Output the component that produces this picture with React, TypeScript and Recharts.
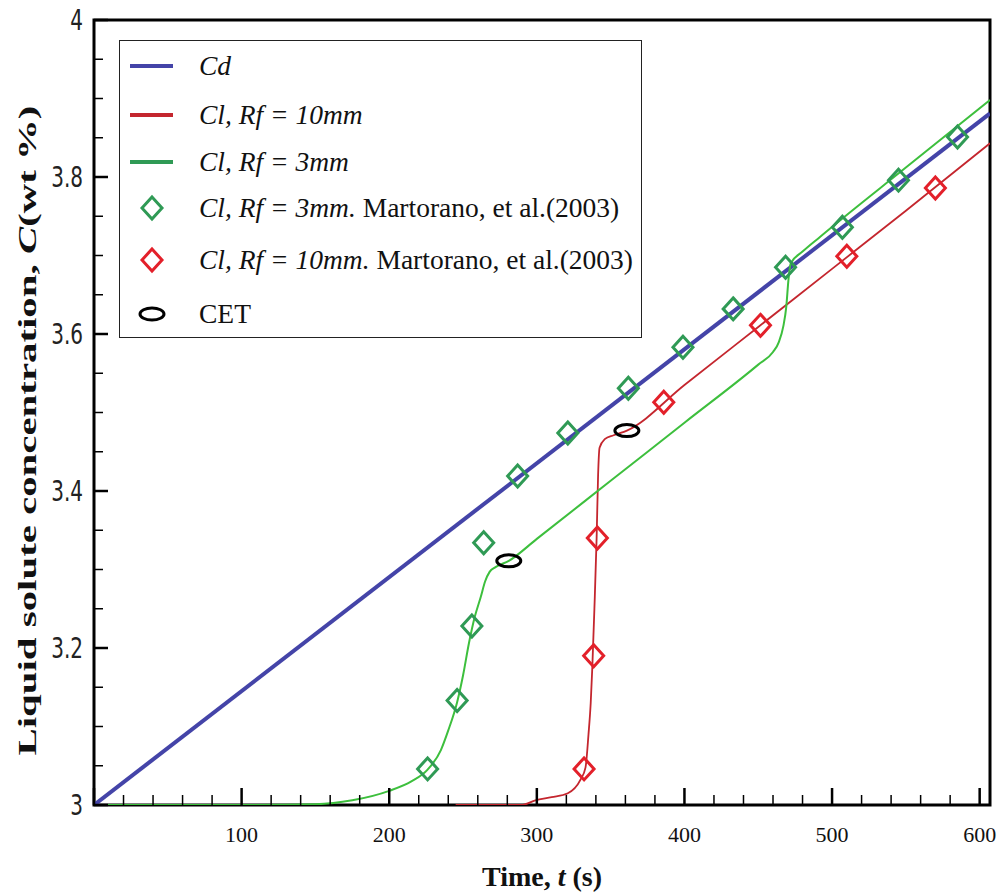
import React from "react";
import {
  ComposedChart,
  Line,
  Scatter,
  XAxis,
  YAxis,
  ReferenceArea,
  Legend,
} from "recharts";

// Cd (blue straight line)
const cdTime = [0, 607];
const cdConc = [3.0, 3.881];

// Cl, Rf = 3mm simulation (green)
const rf3Time = [0, 100, 150, 175, 200, 215, 226, 235, 240, 246, 250, 254, 258, 262, 265, 268, 272, 281, 300, 350, 400, 450, 460, 464, 467, 469, 470.5, 472, 480, 492, 550, 607];
const rf3Conc = [3.0, 3.0, 3.001, 3.006, 3.018, 3.03, 3.045, 3.07, 3.095, 3.131, 3.165, 3.206, 3.24, 3.265, 3.285, 3.297, 3.303, 3.311, 3.339, 3.413, 3.487, 3.561, 3.577, 3.59, 3.61, 3.635, 3.67, 3.69, 3.705, 3.724, 3.812, 3.898];

// Cl, Rf = 10mm simulation (red)
const rf10Time = [245, 290, 299, 310, 321, 329.5, 333, 335, 336.5, 337.6, 339, 340.5, 341.5, 342.5, 346, 352, 361, 400, 450, 500, 550, 607];
const rf10Conc = [3.0, 3.0, 3.006, 3.01, 3.015, 3.032, 3.048, 3.09, 3.13, 3.176, 3.25, 3.34, 3.42, 3.455, 3.466, 3.471, 3.477, 3.535, 3.609, 3.683, 3.757, 3.843];

// Martorano et al. (2003), Rf = 3mm
const exp3Time = [226, 246, 256, 264, 287, 321, 362, 399, 433, 468.5, 507, 545, 585];
const exp3Conc = [3.046, 3.133, 3.228, 3.334, 3.419, 3.474, 3.531, 3.583, 3.632, 3.685, 3.736, 3.796, 3.851];

// Martorano et al. (2003), Rf = 10mm
const exp10Time = [332, 338.5, 341, 386, 451.5, 510, 570];
const exp10Conc = [3.046, 3.19, 3.34, 3.513, 3.611, 3.699, 3.786];

// CET
const cetTime = [281, 361];
const cetConc = [3.311, 3.477];

const xTicks = [0, 20, 40, 60, 80, 100, 120, 140, 160, 180, 200, 220, 240, 260, 280, 300, 320, 340, 360, 380, 400, 420, 440, 460, 480, 500, 520, 540, 560, 580, 600];
const yTicks = [3, 3.05, 3.1, 3.15, 3.2, 3.25, 3.3, 3.35, 3.4, 3.45, 3.5, 3.55, 3.6, 3.65, 3.7, 3.75, 3.8, 3.85, 3.9, 3.95, 4];

const BLUE = "#4444a8";
const RED = "#c4262e";
const GREEN = "#3dbf3d";
const GREEN_MK = "#2f9a55";
const RED_MK = "#e3202a";

const zip = (t: number[], c: number[]) => t.map((v, i) => ({ t: v, c: c[i] }));

const cdData = zip(cdTime, cdConc);
const rf3Data = zip(rf3Time, rf3Conc);
const rf10Data = zip(rf10Time, rf10Conc);
const exp3Data = zip(exp3Time, exp3Conc);
const exp10Data = zip(exp10Time, exp10Conc);
const cetData = zip(cetTime, cetConc);

const serif = "'Liberation Serif', 'Times New Roman', serif";

const diamond = (color: string) => (props: any) => {
  const { cx, cy } = props;
  if (cx == null || cy == null) return <g />;
  return (
    <polygon
      points={`${cx},${cy - 11} ${cx + 10},${cy} ${cx},${cy + 11} ${cx - 10},${cy}`}
      fill="none"
      stroke={color}
      strokeWidth={3}
    />
  );
};

const ellipse = (props: any) => {
  const { cx, cy } = props;
  if (cx == null || cy == null) return <g />;
  return <ellipse cx={cx} cy={cy} rx={12} ry={6} fill="none" stroke="#000" strokeWidth={3} />;
};

const XTick = (props: any) => {
  const { x, y, payload } = props;
  const v = payload.value;
  const major = v % 100 === 0;
  return (
    <g>
      <line x1={x} y1={y} x2={x} y2={y - (major ? 17 : 10)} stroke="#000" strokeWidth={major ? 2.5 : 1.5} />
      {major && v > 0 && (
        <text x={x} y={y + 37} textAnchor="middle" fontFamily={serif} fontSize={22} fill="#111">
          {v}
        </text>
      )}
    </g>
  );
};

const YTick = (props: any) => {
  const { x, y, payload } = props;
  const v = payload.value;
  const major = Math.abs(v * 5 - Math.round(v * 5)) < 1e-6;
  return (
    <g>
      <line x1={x} y1={y} x2={x + (major ? 14 : 9)} y2={y} stroke="#000" strokeWidth={major ? 2.5 : 1.5} />
      {major && (
        <text
          transform={`translate(${x - 11},${y}) scale(1,1.4)`}
          textAnchor="end"
          dominantBaseline="central"
          fontFamily="'DejaVu Sans', sans-serif"
          fontSize={20}
          fill="#222"
        >
          {Number(v.toFixed(1)).toString()}
        </text>
      )}
    </g>
  );
};

const XTitle = (props: any) => {
  const { viewBox } = props;
  const cx = viewBox.x + viewBox.width / 2;
  return (
    <text x={cx} y={886} textAnchor="middle" fontFamily={serif} fontSize={28} fontWeight="bold" fill="#111">
      Time, <tspan fontStyle="italic">t</tspan> (s)
    </text>
  );
};

const YTitle = (props: any) => {
  const { viewBox } = props;
  const cy = viewBox.y + viewBox.height / 2 + 18;
  return (
    <text
      transform={`translate(36,${cy}) rotate(-90)`}
      textAnchor="middle"
      fontFamily={serif}
      fontSize={26}
      fontWeight="bold"
      fill="#111"
      textLength={650}
      lengthAdjust="spacingAndGlyphs"
    >
      Liquid solute concentration, <tspan fontStyle="italic">C</tspan>(wt %)
    </text>
  );
};

const legendRows = [
  { kind: "line", color: BLUE, italic: "Cd", plain: "" },
  { kind: "line", color: RED, italic: "Cl, Rf = 10mm", plain: "" },
  { kind: "line", color: GREEN_MK, italic: "Cl, Rf = 3mm", plain: "" },
  { kind: "diamond", color: GREEN_MK, italic: "Cl, Rf = 3mm.", plain: " Martorano, et al.(2003)" },
  { kind: "diamond", color: RED_MK, italic: "Cl, Rf = 10mm.", plain: " Martorano, et al.(2003)" },
  { kind: "ellipse", color: "#000", italic: "", plain: "CET" },
];
// row heights inside the legend box (px)
const rowHeights = [50, 48, 45, 47, 58, 50];

const LegendBox = () => (
  <div
    style={{
      width: 523,
      height: 298,
      border: "1.5px solid #222",
      background: "#fff",
      boxSizing: "border-box",
    }}
  >
    {legendRows.map((r, i) => (
      <div key={i} style={{ display: "flex", alignItems: "center", height: rowHeights[i] }}>
        <svg width={66} height={30} style={{ flex: "none" }}>
          {r.kind === "line" && <line x1={10} y1={15} x2={53} y2={15} stroke={r.color} strokeWidth={4} />}
          {r.kind === "diamond" && (
            <polygon points="32,4 42,15 32,26 22,15" fill="none" stroke={r.color} strokeWidth={3} />
          )}
          {r.kind === "ellipse" && <ellipse cx={32} cy={15} rx={12} ry={6} fill="none" stroke={r.color} strokeWidth={3} />}
        </svg>
        <span style={{ fontFamily: serif, fontSize: 27.5, color: "#111", whiteSpace: "nowrap", marginLeft: 13 }}>
          <i>{r.italic}</i>
          {r.plain}
        </span>
      </div>
    ))}
  </div>
);

export default function App() {
  return (
    <div style={{ position: "absolute", left: 0, top: 0, background: "#fff" }}>
      <ComposedChart width={997} height={893} margin={{ top: 20, right: 7, left: 0, bottom: 0 }}>
        <ReferenceArea x1={0} x2={607} y1={3} y2={4} fill="none" stroke="#000" strokeWidth={3} />
        <XAxis
          type="number"
          dataKey="t"
          domain={[0, 607]}
          ticks={xTicks}
          interval={0}
          height={88}
          tickSize={0}
          tickMargin={0}
          tickLine={false}
          tick={XTick}
          axisLine={false}
          label={{ content: XTitle }}
          allowDataOverflow
        />
        <YAxis
          type="number"
          domain={[3, 4]}
          ticks={yTicks}
          interval={0}
          width={94}
          tickSize={0}
          tickMargin={0}
          tickLine={false}
          tick={YTick}
          axisLine={false}
          label={{ content: YTitle }}
          allowDataOverflow
        />
        <Line data={cdData} dataKey="c" type="linear" stroke={BLUE} strokeWidth={4} dot={false} isAnimationActive={false} />
        <Line data={rf10Data} dataKey="c" type="monotone" stroke={RED} strokeWidth={1.8} dot={false} isAnimationActive={false} />
        <Line data={rf3Data} dataKey="c" type="monotone" stroke={GREEN} strokeWidth={2} dot={false} isAnimationActive={false} />
        <Scatter data={exp3Data} dataKey="c" shape={diamond(GREEN_MK)} isAnimationActive={false} />
        <Scatter data={exp10Data} dataKey="c" shape={diamond(RED_MK)} isAnimationActive={false} />
        <Scatter data={cetData} dataKey="c" shape={ellipse} isAnimationActive={false} />
        <Legend
          layout="horizontal"
          verticalAlign="middle"
          align="center"
          content={() => <LegendBox />}
          wrapperStyle={{ position: "absolute", left: 119, top: 40, width: "auto", height: "auto" }}
        />
      </ComposedChart>
    </div>
  );
}
